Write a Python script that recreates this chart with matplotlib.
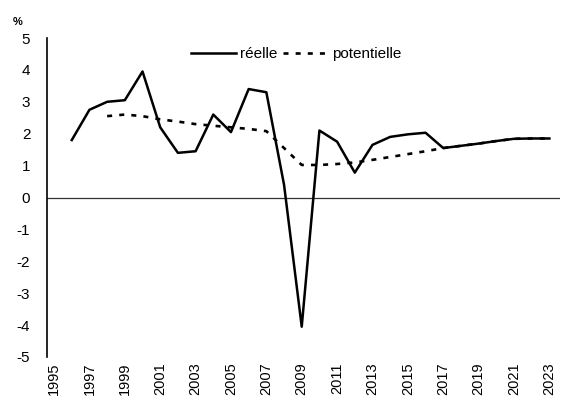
import matplotlib.pyplot as plt

plt.rcParams['font.family'] = ['Liberation Sans', 'DejaVu Sans']

# croissance du PIB, %
years_reel = list(range(1996, 2024))
reelle = [1.8, 2.75, 3.0, 3.05, 3.95, 2.2, 1.4, 1.45, 2.6, 2.05, 3.4, 3.3,
          0.4, -4.05, 2.1, 1.75, 0.78, 1.65, 1.9, 1.98, 2.03, 1.55,
          1.62, 1.69, 1.77, 1.84, 1.85, 1.85]

years_pot = list(range(1998, 2024))
potentielle = [2.55, 2.6, 2.55, 2.45, 2.38, 2.3, 2.25, 2.2, 2.15, 2.08,
               1.55, 1.02, 1.02, 1.05, 1.1, 1.18, 1.27, 1.36, 1.45, 1.55,
               1.62, 1.69, 1.77, 1.84, 1.85, 1.85]

xticks = list(range(1995, 2024, 2))
yticks = list(range(-5, 6))

fig = plt.figure(figsize=(5.81, 4.05), dpi=100)
ax = fig.add_axes([47 / 581, 1 - 357 / 405, 513 / 581, 319 / 405])

ax.plot(years_reel, reelle, color='black', lw=1.8, label='réelle', zorder=3)
ax.plot(years_pot, potentielle, color='black', lw=1.9,
        linestyle=(0, (1.9, 2.7)), label='potentielle', zorder=2)
ax.axhline(0, color='#333333', lw=0.9, zorder=1)

ax.set_xlim(1994.6, 2023.6)
ax.set_ylim(-5, 5)
ax.set_yticks(yticks)
ax.set_yticklabels([str(v) for v in yticks], fontsize=11)
ax.set_xticks(xticks)
ax.set_xticklabels([str(v) for v in xticks], rotation=90, fontsize=10.5)
ax.tick_params(axis='y', length=0, pad=12)
ax.tick_params(axis='x', length=0, pad=4)

for side in ['top', 'right', 'bottom']:
    ax.spines[side].set_visible(False)
ax.spines['left'].set_linewidth(1.2)

ax.legend(ncol=2, frameon=False, loc='center left',
          bbox_to_anchor=(0.28, 0.95), fontsize=11, handlelength=3.0,
          handletextpad=0.2, columnspacing=0.4, borderpad=0, borderaxespad=0)

fig.text(18 / 581, 1 - 22 / 405, '%', fontsize=8, fontweight='bold',
         ha='center', va='center')

fig.savefig('out.png', dpi=100)
